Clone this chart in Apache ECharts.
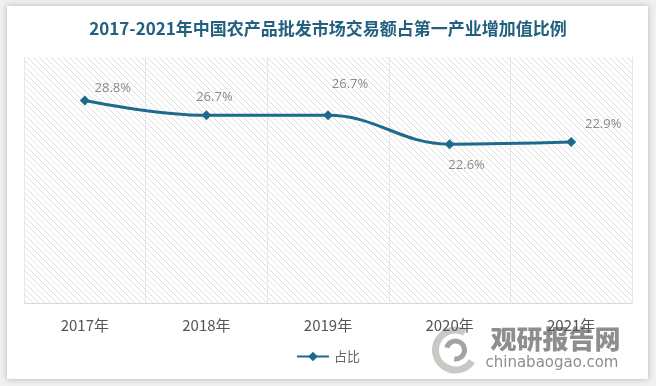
<!DOCTYPE html>
<html><head><meta charset="utf-8">
<script src="https://cdn.jsdelivr.net/npm/echarts@6/dist/echarts.min.js"></script>
<style>
html,body{margin:0;padding:0;background:#f0f0f0;}
#card{position:absolute;left:7px;top:6px;width:641px;height:373px;background:#fff;box-shadow:0 0 6px rgba(0,0,0,0.25);}
#c{position:absolute;left:0;top:0;width:656px;height:386px;}
</style></head>
<body>
<div id="card"></div>
<div id="c"></div>
<script>
const categories = ['2017年','2018年','2019年','2020年','2021年'];
const values = [28.8, 26.7, 26.7, 22.6, 22.9];
const seriesName = '占比';
const titleText = '2017-2021年中国农产品批发市场交易额占第一产业增加值比例';

// hatch pattern
const pc = document.createElement('canvas');
pc.width = 6; pc.height = 6;
const px = pc.getContext('2d');
px.fillStyle = '#ffffff'; px.fillRect(0,0,6,6);
px.strokeStyle = '#dedede'; px.lineWidth = 1;
px.beginPath();
px.moveTo(-1,-1); px.lineTo(7,7);
px.moveTo(-1,5); px.lineTo(1,7);
px.moveTo(5,-1); px.lineTo(7,1);
px.stroke();

const labelPos = [
  {position:'top', offset:[28,4]},
  {position:'top', offset:[8,-2]},
  {position:'top', offset:[22,-15]},
  {position:'bottom', offset:[17,5]},
  {position:'top', offset:[32,-1]}
];

const chart = echarts.init(document.getElementById('c'));
chart.setOption({
  backgroundColor: 'transparent',
  title: {
    text: titleText, left: 'center', top: 15,
    textStyle: {fontSize: 17, fontWeight: 'bold', color: '#22607f', fontFamily: 'Noto Sans CJK SC'}
  },
  grid: {left: 24, right: 24, top: 57, bottom: 83, show: true, borderWidth: 0,
    backgroundColor: {image: pc, repeat: 'repeat'}},
  legend: {
    data: [seriesName], bottom: 18, left: 'center', itemWidth: 32, itemHeight: 12,
    textStyle: {color: '#666', fontSize: 13, fontFamily: 'Noto Sans CJK SC'}
  },
  xAxis: {
    type: 'category', data: categories, boundaryGap: true,
    axisLine: {lineStyle: {color: '#d9d9d9'}},
    axisTick: {show: false},
    splitLine: {show: true, lineStyle: {color: '#e6e6e6'}},
    axisLabel: {color: '#555', fontSize: 15, margin: 15, fontFamily: 'Noto Sans CJK SC'}
  },
  yAxis: {type: 'value', min: 0, max: 35, show: false, splitLine: {show: false}},
  series: [{
    name: seriesName, type: 'line', smooth: 0.4,
    data: values.map((v,i)=>({value:v, label:{show:true, position:labelPos[i].position, offset:labelPos[i].offset}})),
    symbol: 'diamond', symbolSize: 10,
    lineStyle: {color: '#1d6a8c', width: 3},
    itemStyle: {color: '#1d6a8c'},
    label: {show: true, formatter: '{c}%', color: '#8a8a8a', fontSize: 13, fontFamily: 'Open Sans'}
  }],
  graphic: [
    {type:'group', left: 432, top: 326, silent: true, children: [
      {type:'arc', shape:{cx:28, cy:24, r:20, startAngle:0.6, endAngle:5.2}, style:{stroke:'#c8c8c4', lineWidth:7, fill:null}},
      {type:'arc', shape:{cx:28, cy:24, r:9, startAngle:3.4, endAngle:8.0}, style:{stroke:'#a0a4a4', lineWidth:5, fill:null}},
      {type:'text', x:63, y:0, style:{text:'观研报告网', fill:'#8e8e8e', font:'900 26px "Noto Sans CJK SC"'}},
      {type:'text', x:58, y:30, style:{text:'chinabaogao.com', fill:'#8e8e8e', font:'15px "DejaVu Sans"'}}
    ]}
  ]
});
</script>
</body></html>
